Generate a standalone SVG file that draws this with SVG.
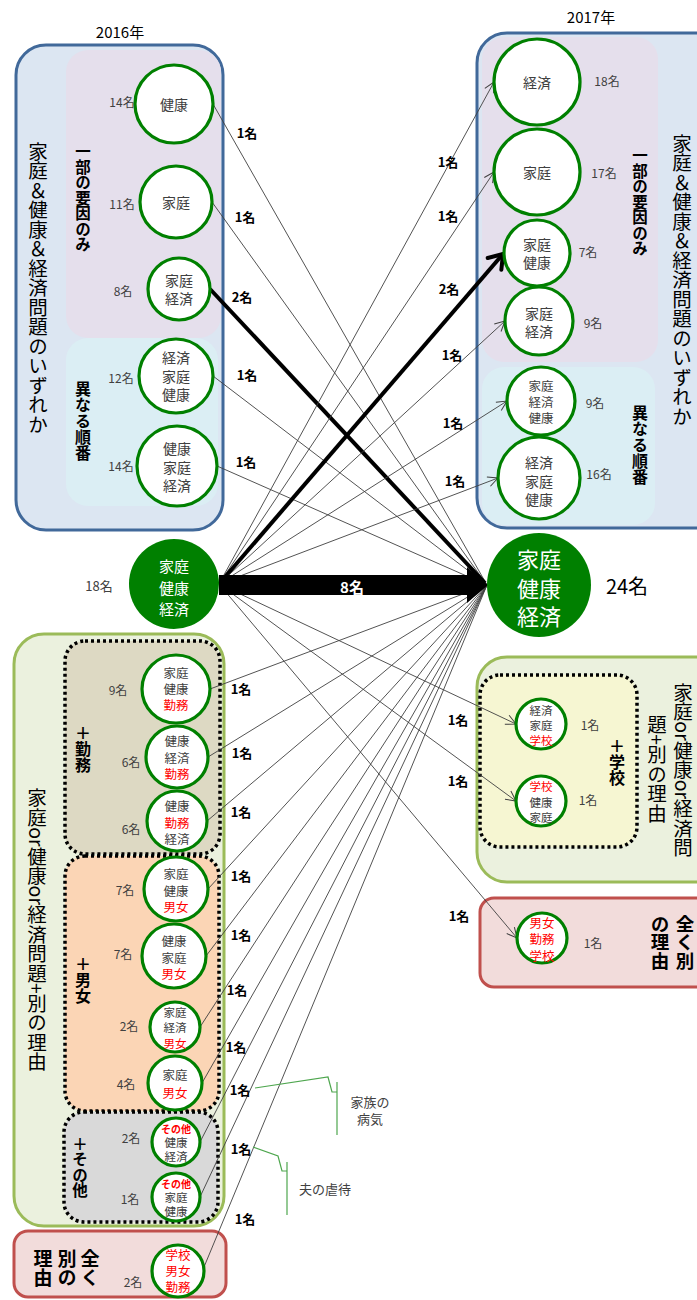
<svg xmlns="http://www.w3.org/2000/svg" width="697" height="1300" viewBox="0 0 697 1300">
<defs>
<style>
text{font-family:"Noto Sans CJK JP","Noto Sans",sans-serif;}
.c{fill:#fff;stroke:#008000;stroke-width:3.2}
.ct{font-size:12.5px;fill:#404040;text-anchor:middle;dominant-baseline:central}
.cl{font-size:14px}
.cs{font-size:11.5px}
.r{fill:#ff0000}
.o{fill:#ff0000;font-size:10px;font-weight:bold}
.n{font-size:12px;fill:#404040;text-anchor:middle;dominant-baseline:central}
.lb{font-size:13px;font-weight:bold;fill:#000;text-anchor:middle;dominant-baseline:central}
.v{writing-mode:vertical-rl;text-anchor:middle;fill:#000}
.ln{stroke:#404040;stroke-width:0.9;fill:none}
.tk{stroke:#000;stroke-width:4;fill:none}
.dot{fill:none;stroke:#000;stroke-width:3.5;stroke-dasharray:3 3}
.blue{fill:#dce6f2;stroke:#41699a;stroke-width:3}
.grn{fill:#ebf1de;stroke:#9bbb59;stroke-width:3}
.red{fill:#f2dcdb;stroke:#c0504d;stroke-width:3}
.ann{stroke:#4ea64e;stroke-width:1.2;fill:none}
.at{font-size:13px;fill:#404040;text-anchor:middle;dominant-baseline:central}
</style>
<marker id="ah" markerWidth="12" markerHeight="12" refX="10" refY="6" orient="auto" markerUnits="userSpaceOnUse" overflow="visible"><path d="M0,1 L10,6 L0,11" fill="none" stroke="#404040" stroke-width="1"/></marker>
<marker id="ahb" markerWidth="18" markerHeight="20" refX="14" refY="10" orient="auto" markerUnits="userSpaceOnUse" overflow="visible"><path d="M1,1 L14,10 L1,19" fill="none" stroke="#000" stroke-width="4" stroke-linecap="round" stroke-linejoin="round"/></marker>
</defs>
<rect width="697" height="1300" fill="#fff"/>

<!-- titles -->
<text x="120" y="31" font-size="15" text-anchor="middle" dominant-baseline="central" fill="#000">2016年</text>
<text x="591" y="16" font-size="15" text-anchor="middle" dominant-baseline="central" fill="#000">2017年</text>

<!-- containers -->
<g id="grp2016top">
<rect class="blue" x="16" y="45" width="207" height="485" rx="30"/>
<rect x="66" y="50" width="155" height="288" rx="22" fill="#e5dfec"/>
<rect x="66" y="338" width="152" height="168" rx="22" fill="#dbeef4"/>
<text class="v" x="38" y="288" font-size="19.5">家庭＆健康＆経済問題のいずれか</text>
<text class="v" x="83" y="198" font-size="15.5" font-weight="bold">一部の要因のみ</text>
<text class="v" x="83" y="421" font-size="16" font-weight="bold">異なる順番</text>
</g>
<g id="grp2017top">
<rect class="blue" x="477" y="33" width="260" height="495" rx="30"/>
<rect x="482" y="37" width="176" height="325" rx="22" fill="#e5dfec"/>
<rect x="482" y="367" width="173" height="158" rx="22" fill="#dbeef4"/>
<text class="v" x="682" y="280" font-size="19.5">家庭＆健康＆経済問題のいずれか</text>
<text class="v" x="640" y="202" font-size="15.5" font-weight="bold">一部の要因のみ</text>
<text class="v" x="640" y="445" font-size="16" font-weight="bold">異なる順番</text>
</g>
<g id="grp2016other">
<rect class="grn" x="14" y="634" width="210" height="592" rx="30"/>
<rect x="65" y="641" width="155" height="213" rx="20" fill="#ddd9c3"/>
<rect class="dot" x="65" y="641" width="155" height="213" rx="20"/>
<rect x="65" y="856" width="154" height="255" rx="20" fill="#fbd5b5"/>
<rect class="dot" x="65" y="856" width="154" height="255" rx="20"/>
<rect x="64" y="1112" width="154" height="110" rx="20" fill="#d9d9d9"/>
<rect class="dot" x="64" y="1112" width="154" height="110" rx="20"/>
<text class="v" x="37" y="930" font-size="19.5">家庭or健康or経済問題+別の理由</text>
<text class="v" x="83" y="749" font-size="16" font-weight="bold">＋勤務</text>
<text class="v" x="83" y="980" font-size="16" font-weight="bold">＋男女</text>
<text class="v" x="80" y="1167" font-size="15.5" font-weight="bold">＋その他</text>
</g>
<g id="grp2016diff">
<rect class="red" x="14" y="1231" width="212" height="66" rx="14"/>
<text class="v" x="90" y="1268" font-size="19" font-weight="bold">全く</text>
<text class="v" x="67" y="1268" font-size="19" font-weight="bold">別の</text>
<text class="v" x="43" y="1268" font-size="19" font-weight="bold">理由</text>
</g>
<g id="grp2017other">
<rect class="grn" x="477" y="657" width="250" height="225" rx="30"/>
<rect x="480" y="675" width="157" height="172" rx="20" fill="#f6f6d2"/>
<rect class="dot" x="480" y="675" width="157" height="172" rx="20"/>
<text class="v" x="617" y="762" font-size="16" font-weight="bold">＋学校</text>
<text class="v" x="683" y="770" font-size="19.5">家庭or健康or経済問</text>
<text class="v" x="657" y="769" font-size="19.5">題+別の理由</text>
</g>
<g id="grp2017diff">
<rect class="red" x="480" y="898" width="240" height="89" rx="14"/>
<text class="v" x="685" y="942" font-size="18.5" font-weight="bold">全く別</text>
<text class="v" x="660" y="942" font-size="18.5" font-weight="bold">の理由</text>
</g>

<!-- connectors -->
<g id="connectors">
<path class="ln" d="M213,104 L487,585"/>
<path class="ln" d="M212,202 L487,585"/>
<path class="ln" d="M213,376 L487,585"/>
<path class="ln" d="M217,466 L487,585"/>
<path class="tk" d="M210,289 L485,583"/>
<path class="ln" d="M219,584 L494,82" marker-end="url(#ah)"/>
<path class="ln" d="M219,584 L494,172" marker-end="url(#ah)"/>
<path class="tk" d="M219,584 L503,254" marker-end="url(#ahb)"/>
<path class="ln" d="M219,584 L505,321" marker-end="url(#ah)"/>
<path class="ln" d="M219,584 L507,401" marker-end="url(#ah)"/>
<path class="ln" d="M219,584 L498,478" marker-end="url(#ah)"/>
<path class="ln" d="M219,584 L516,724" marker-end="url(#ah)"/>
<path class="ln" d="M219,584 L516,801" marker-end="url(#ah)"/>
<path class="ln" d="M219,584 L517,938" marker-end="url(#ah)"/>
<path class="ln" d="M210,689 L487,585"/>
<path class="ln" d="M208,757 L487,585"/>
<path class="ln" d="M207,821 L487,585"/>
<path class="ln" d="M208,889 L487,585"/>
<path class="ln" d="M206,956 L487,585"/>
<path class="ln" d="M200,1027 L487,585"/>
<path class="ln" d="M202,1083 L487,585"/>
<path class="ln" d="M200,1142 L487,585"/>
<path class="ln" d="M200,1197 L487,585"/>
<path class="ln" d="M204,1267 L487,585"/>
<path d="M219,575 L467,575 L467,567 L488,585 L467,603 L467,595 L219,595 Z" fill="#000"/>
<text x="352" y="586" font-size="15" font-weight="bold" fill="#fff" text-anchor="middle" dominant-baseline="central">8名</text>
<text class="lb" x="247" y="132">1名</text>
<text class="lb" x="245" y="216">1名</text>
<text class="lb" x="242" y="296">2名</text>
<text class="lb" x="247" y="374">1名</text>
<text class="lb" x="246" y="461">1名</text>
<text class="lb" x="448" y="161">1名</text>
<text class="lb" x="448" y="215">1名</text>
<text class="lb" x="449" y="288">2名</text>
<text class="lb" x="452" y="354">1名</text>
<text class="lb" x="453" y="422">1名</text>
<text class="lb" x="455" y="480">1名</text>
<text class="lb" x="458" y="719">1名</text>
<text class="lb" x="458" y="780">1名</text>
<text class="lb" x="459" y="915">1名</text>
<text class="lb" x="241" y="688">1名</text>
<text class="lb" x="242" y="752">1名</text>
<text class="lb" x="241" y="811">1名</text>
<text class="lb" x="241" y="875">1名</text>
<text class="lb" x="241" y="934">1名</text>
<text class="lb" x="237" y="989">1名</text>
<text class="lb" x="236" y="1046">1名</text>
<text class="lb" x="240" y="1089">1名</text>
<text class="lb" x="241" y="1148">1名</text>
<text class="lb" x="245" y="1218">1名</text>
</g>

<!-- annotations -->
<g id="notes">
<path class="ann" d="M255,1088 L328,1077 L332,1092 L337,1092"/>
<path class="ann" d="M337,1082 L337,1135"/>
<text class="at" x="370" y="1101">家族の</text>
<text class="at" x="370" y="1118">病気</text>
<path class="ann" d="M253,1147 L278,1156 L282,1171 L287,1171"/>
<path class="ann" d="M287,1162 L287,1215"/>
<text class="at" x="325" y="1188">夫の虐待</text>
</g>

<!-- 2016 nodes -->
<g id="n16_kenko"><circle class="c" cx="174" cy="104" r="39"/><text class="ct cl" x="174" y="104">健康</text><text class="n" x="122" y="101">14名</text></g>
<g id="n16_katei"><circle class="c" cx="176" cy="202" r="36"/><text class="ct cl" x="176" y="202">家庭</text><text class="n" x="122" y="203">11名</text></g>
<g id="n16_katei_keizai"><circle class="c" cx="179" cy="289" r="31"/><text class="ct cl" x="179" y="280">家庭</text><text class="ct cl" x="179" y="298">経済</text><text class="n" x="123" y="290">8名</text></g>
<g id="n16_kkk1"><circle class="c" cx="176" cy="376" r="37"/><text class="ct cl" x="176" y="357">経済</text><text class="ct cl" x="176" y="376">家庭</text><text class="ct cl" x="176" y="394">健康</text><text class="n" x="121" y="377">12名</text></g>
<g id="n16_kkk2"><circle class="c" cx="177" cy="466" r="40"/><text class="ct cl" x="177" y="448">健康</text><text class="ct cl" x="177" y="467">家庭</text><text class="ct cl" x="177" y="485">経済</text><text class="n" x="121" y="465">14名</text></g>
<g id="n16_all"><circle cx="174" cy="584" r="45" fill="#008000"/><text class="ct" x="174" y="565" style="fill:#fff;font-size:15px">家庭</text><text class="ct" x="174" y="587" style="fill:#fff;font-size:15px">健康</text><text class="ct" x="174" y="608" style="fill:#fff;font-size:15px">経済</text><text class="n" x="99" y="585" style="font-size:13px">18名</text></g>
<g id="n16_w1"><circle class="c" cx="176" cy="689" r="34"/><text class="ct" x="176" y="672">家庭</text><text class="ct" x="176" y="688">健康</text><text class="ct r" x="176" y="704">勤務</text><text class="n" x="118" y="689">9名</text></g>
<g id="n16_w2"><circle class="c" cx="177" cy="757" r="31"/><text class="ct" x="177" y="740">健康</text><text class="ct" x="177" y="757">経済</text><text class="ct r" x="177" y="773">勤務</text><text class="n" x="131" y="761">6名</text></g>
<g id="n16_w3"><circle class="c" cx="177" cy="821" r="30"/><text class="ct" x="177" y="805">健康</text><text class="ct r" x="177" y="822">勤務</text><text class="ct" x="177" y="838">経済</text><text class="n" x="131" y="828">6名</text></g>
<g id="n16_g1"><circle class="c" cx="176" cy="889" r="32"/><text class="ct" x="176" y="873">家庭</text><text class="ct" x="176" y="890">健康</text><text class="ct r" x="176" y="906">男女</text><text class="n" x="125" y="889">7名</text></g>
<g id="n16_g2"><circle class="c" cx="174" cy="956" r="32"/><text class="ct" x="174" y="940">健康</text><text class="ct" x="174" y="957">家庭</text><text class="ct r" x="174" y="973">男女</text><text class="n" x="123" y="953">7名</text></g>
<g id="n16_g3"><circle class="c" cx="175" cy="1027" r="25"/><text class="ct cs" x="175" y="1012">家庭</text><text class="ct cs" x="175" y="1027">経済</text><text class="ct cs r" x="175" y="1043">男女</text><text class="n" x="129" y="1025">2名</text></g>
<g id="n16_g4"><circle class="c" cx="175" cy="1083" r="27"/><text class="ct" x="175" y="1074">家庭</text><text class="ct r" x="175" y="1092">男女</text><text class="n" x="126" y="1083">4名</text></g>
<g id="n16_o1"><circle class="c" cx="176" cy="1142" r="24"/><text class="ct o" x="176" y="1128">その他</text><text class="ct cs" x="176" y="1142">健康</text><text class="ct cs" x="176" y="1156">経済</text><text class="n" x="131" y="1137">2名</text></g>
<g id="n16_o2"><circle class="c" cx="176" cy="1197" r="24"/><text class="ct o" x="176" y="1183">その他</text><text class="ct cs" x="176" y="1197">家庭</text><text class="ct cs" x="176" y="1211">健康</text><text class="n" x="130" y="1198">1名</text></g>
<g id="n16_d1"><circle class="c" cx="178" cy="1271" r="26"/><text class="ct r" x="178" y="1254">学校</text><text class="ct r" x="178" y="1270">男女</text><text class="ct r" x="178" y="1286">勤務</text><text class="n" x="133" y="1281">2名</text></g>

<!-- 2017 nodes -->
<g id="n17_keizai"><circle class="c" cx="537" cy="82" r="43"/><text class="ct cl" x="537" y="82">経済</text><text class="n" x="607" y="80">18名</text></g>
<g id="n17_katei"><circle class="c" cx="537" cy="172" r="43"/><text class="ct cl" x="537" y="172">家庭</text><text class="n" x="604" y="172">17名</text></g>
<g id="n17_katei_kenko"><circle class="c" cx="537" cy="253" r="33"/><text class="ct cl" x="537" y="244">家庭</text><text class="ct cl" x="537" y="262">健康</text><text class="n" x="588" y="251">7名</text></g>
<g id="n17_katei_keizai"><circle class="c" cx="539" cy="321" r="34"/><text class="ct cl" x="539" y="313">家庭</text><text class="ct cl" x="539" y="331">経済</text><text class="n" x="593" y="322">9名</text></g>
<g id="n17_kkk1"><circle class="c" cx="541" cy="401" r="34"/><text class="ct" x="541" y="385">家庭</text><text class="ct" x="541" y="401">経済</text><text class="ct" x="541" y="417">健康</text><text class="n" x="595" y="402">9名</text></g>
<g id="n17_kkk2"><circle class="c" cx="539" cy="478" r="41"/><text class="ct cl" x="539" y="462">経済</text><text class="ct cl" x="539" y="481">家庭</text><text class="ct cl" x="539" y="499">健康</text><text class="n" x="599" y="473">16名</text></g>
<g id="n17_all"><circle cx="539" cy="585" r="52" fill="#008000"/><text class="ct" x="539" y="558" style="fill:#fff;font-size:22px">家庭</text><text class="ct" x="539" y="587" style="fill:#fff;font-size:22px">健康</text><text class="ct" x="539" y="615" style="fill:#fff;font-size:22px">経済</text><text x="627" y="585" font-size="20" text-anchor="middle" dominant-baseline="central" fill="#000">24名</text></g>
<g id="n17_s1"><circle class="c" cx="541" cy="724" r="25"/><text class="ct cs" x="541" y="710">経済</text><text class="ct cs" x="541" y="725">家庭</text><text class="ct cs r" x="541" y="740">学校</text><text class="n" x="590" y="724">1名</text></g>
<g id="n17_s2"><circle class="c" cx="541" cy="801" r="25"/><text class="ct cs r" x="541" y="786">学校</text><text class="ct cs" x="541" y="802">健康</text><text class="ct cs" x="541" y="817">家庭</text><text class="n" x="588" y="799">1名</text></g>
<g id="n17_d1"><circle class="c" cx="542" cy="938" r="25"/><text class="ct r" x="542" y="922">男女</text><text class="ct r" x="542" y="938">勤務</text><text class="ct r" x="542" y="955">学校</text><text class="n" x="593" y="942">1名</text></g>
</svg>
